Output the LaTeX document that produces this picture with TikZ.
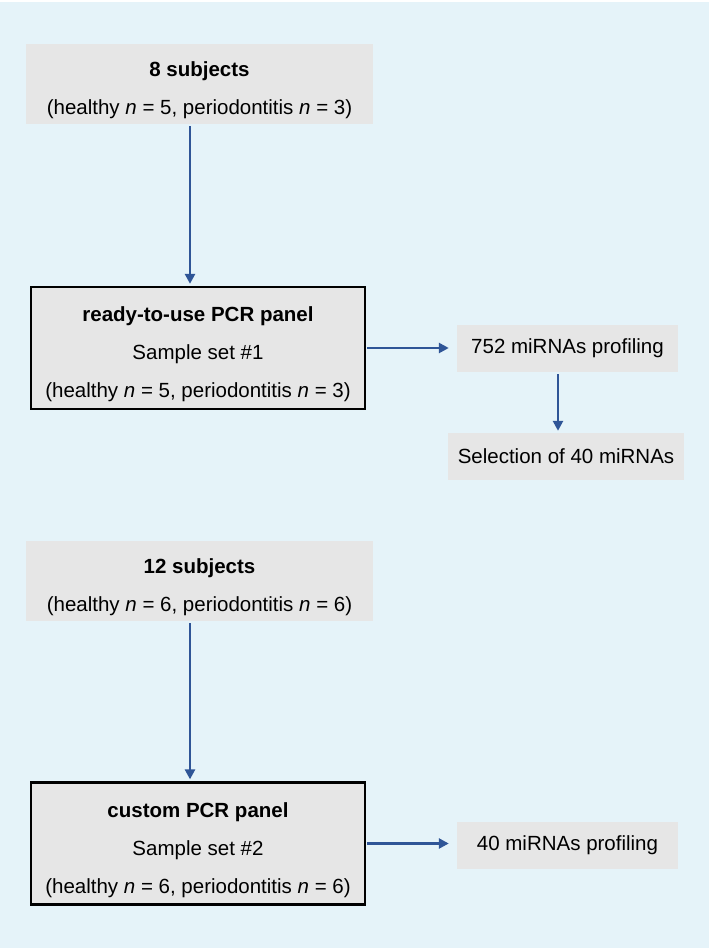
\documentclass[tikz,border=0pt]{standalone}
\usepackage{fontspec}
\setmainfont{Liberation Sans}
\usepackage{xcolor}
\usetikzlibrary{arrows.meta, positioning}

\definecolor{bgblue}{HTML}{E5F3F9}
\definecolor{boxgray}{HTML}{E6E6E6}
\definecolor{arrblue}{HTML}{2F5597}
\newcommand{\firstline}{\rule{0pt}{28pt}}

\begin{document}
\begin{tikzpicture}[
                x=1pt, y=-1pt,
                box/.style={fill=boxgray,inner sep=0pt,align=center,
                    font=\fontsize{20.5}{38}\selectfont},
                panel/.style={box,draw=black,line width=2.3pt,
                    minimum width=334pt,minimum height=122pt},
                subj/.style={box,minimum width=347pt,minimum height=80pt},
                prof/.style={box,minimum height=47pt},
                arr/.style={arrblue,line width=2.8pt,
                    -{Triangle[length=10pt,width=10pt]}}
            ]
                \fill[white] (0,0) rectangle (709,948);
                \fill[bgblue] (0,2) rectangle (709,948);
                \useasboundingbox (0,0) rectangle (709,948);

                % first sample set
                \node[subj]  (subj1)  at (199.5,84)  {\firstline\textbf{8 subjects}\\(healthy \textit{n} = 5, periodontitis \textit{n} = 3)};
                \node[panel] (panel1) at (198,348)   {\firstline\textbf{ready-to-use PCR panel}\\Sample set \#1\\(healthy \textit{n} = 5, periodontitis \textit{n} = 3)};
                \node[prof,minimum width=221pt] (prof1) at (567.5,348.5) {752 miRNAs profiling};
                \node[prof,minimum width=236pt] (sel1)  at (566,456.5)   {Selection of 40 miRNAs};

                % second sample set
                \node[subj]  (subj2)  at (199.5,581) {\firstline\textbf{12 subjects}\\(healthy \textit{n} = 6, periodontitis \textit{n} = 6)};
                \node[panel] (panel2) at (198,843.5) {\firstline\textbf{custom PCR panel}\\Sample set \#2\\(healthy \textit{n} = 6, periodontitis \textit{n} = 6)};
                \node[prof,minimum width=221pt] (prof2) at (567.5,845.5) {40 miRNAs profiling};

                \begin{scope}[arr,shorten <=2pt,shorten >=2pt]
                    \draw ([xshift=-9.5pt]subj1.south) -- ([xshift=-8pt]panel1.north);
                    \draw ([xshift=-9.5pt]subj2.south) -- ([xshift=-8pt]panel2.north);
                    \draw ([xshift=-9.5pt]prof1.south) -- ([xshift=-8pt]sel1.north);
                \end{scope}
                \begin{scope}[arr,shorten <=1pt,shorten >=8pt]
                    \draw (panel1.east) -- (prof1.west |- panel1.east);
                    \draw (panel2.east) -- (prof2.west |- panel2.east);
                \end{scope}
            \end{tikzpicture}
\end{document}
